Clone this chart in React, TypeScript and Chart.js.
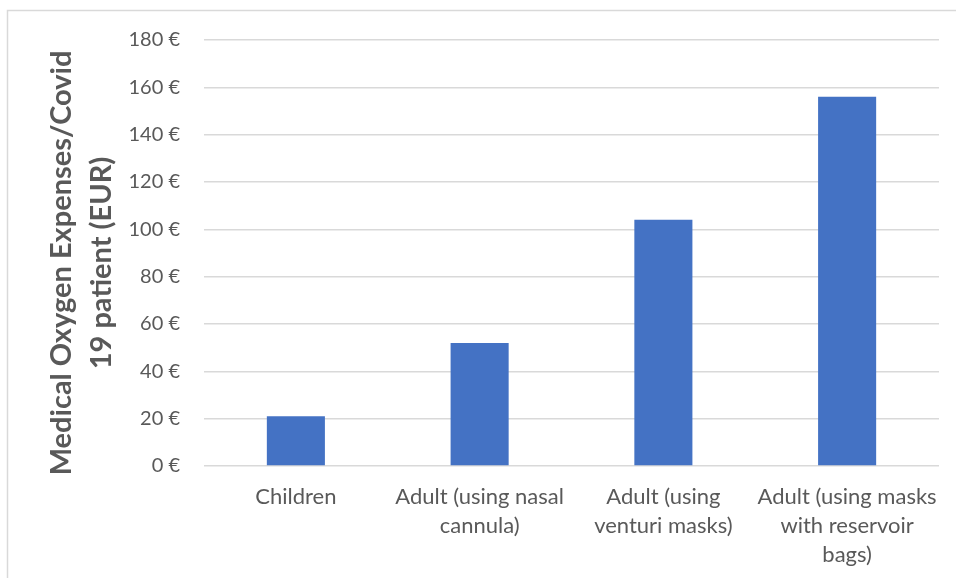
import { useEffect, useRef } from "react";
import { Chart, registerables } from "chart.js";

Chart.register(...registerables);

const categories: string[][] = [
  ["Children"],
  ["Adult (using nasal", "cannula)"],
  ["Adult (using", "venturi masks)"],
  ["Adult (using masks", "with reservoir", "bags)"],
];
const costs: number[] = [21, 52, 104, 156];
const yTitle: string[] = ["Medical Oxygen Expenses/Covid", "19 patient (EUR)"];
const yMin = 0;
const yMax = 180;
const yStep = 20;

const FONT = "Lato, 'Open Sans', sans-serif";
const TEXT = "#595959";
const GRID = "#d9d9d9";

// Thin frame around the chart (left and top edges)
const framePlugin = {
  id: "frame",
  beforeDraw(chart: Chart) {
    const { ctx, width, height } = chart;
    ctx.save();
    ctx.strokeStyle = "#d9d9d9";
    ctx.lineWidth = 1.5;
    ctx.beginPath();
    ctx.moveTo(7.5, height);
    ctx.lineTo(7.5, 10.5);
    ctx.lineTo(width, 10.5);
    ctx.stroke();
    ctx.restore();
  },
};

// Two-line rotated value-axis title, centred a little below the plot middle
const yTitlePlugin = {
  id: "yTitle",
  afterDraw(chart: Chart) {
    const { ctx, chartArea } = chart;
    const cy = (chartArea.top + chartArea.bottom) / 2 + 10;
    ctx.save();
    ctx.translate(62, cy);
    ctx.rotate(-Math.PI / 2);
    ctx.fillStyle = TEXT;
    ctx.font = `bold 29px ${FONT}`;
    ctx.textAlign = "center";
    ctx.textBaseline = "middle";
    yTitle.forEach((line, i) => ctx.fillText(line, 0, i * 40));
    ctx.restore();
  },
};

export default function App() {
  const canvasRef = useRef<HTMLCanvasElement | null>(null);

  useEffect(() => {
    const canvas = canvasRef.current;
    if (!canvas) return;
    const chart = new Chart(canvas, {
      type: "bar",
      data: {
        labels: categories,
        datasets: [
          {
            data: costs,
            backgroundColor: "#4472C4",
            borderWidth: 0,
            barPercentage: 0.316,
            categoryPercentage: 1,
          },
        ],
      },
      options: {
        responsive: false,
        animation: false,
        layout: { padding: { top: 40, right: 17, left: 0, bottom: 0 } },
        plugins: {
          legend: { display: false },
          tooltip: { enabled: false },
        },
        scales: {
          x: {
            grid: { display: false },
            border: { display: false },
            ticks: {
              color: TEXT,
              font: { family: FONT, size: 22, lineHeight: "29px" as any },
              padding: 8,
              maxRotation: 0,
              autoSkip: false,
            },
            afterFit(scale: any) {
              scale.height = 112;
            },
          },
          y: {
            min: yMin,
            max: yMax,
            grid: { color: GRID, lineWidth: 1.5, drawTicks: false },
            border: { display: false },
            ticks: {
              stepSize: yStep,
              color: TEXT,
              font: { family: FONT, size: 20 },
              padding: 24,
              callback: (v: any) => `${v} €`,
            },
            afterFit(scale: any) {
              scale.width = 204;
            },
          },
        },
      },
      plugins: [framePlugin, yTitlePlugin],
    });
    return () => chart.destroy();
  }, []);

  return (
    <div style={{ position: "absolute", left: 0, top: 0, width: 956, height: 578, background: "#fff" }}>
      <canvas ref={canvasRef} width={956} height={578} />
    </div>
  );
}
